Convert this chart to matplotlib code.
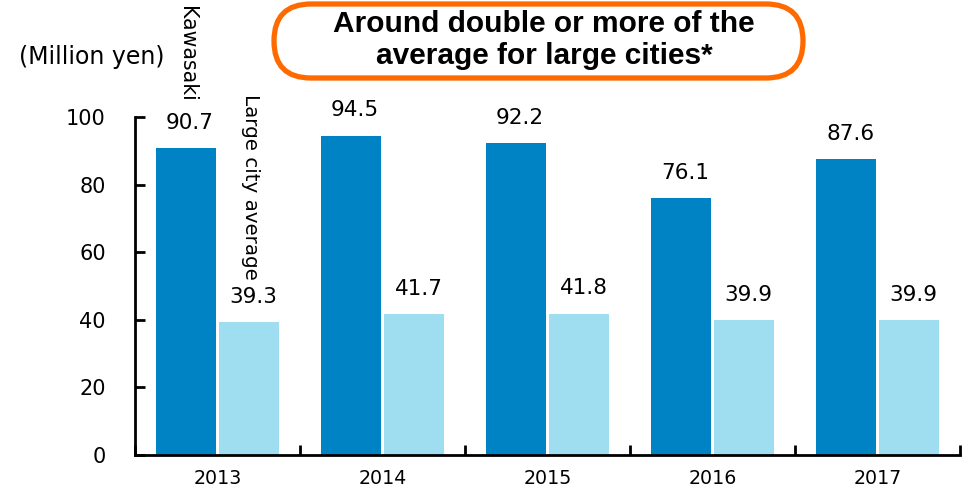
import numpy as np
import matplotlib.pyplot as plt
from matplotlib import font_manager
from matplotlib.patches import FancyBboxPatch

years = ['2013', '2014', '2015', '2016', '2017']
kawasaki = [90.7, 94.5, 92.2, 76.1, 87.6]
large_city_avg = [39.3, 41.7, 41.8, 39.9, 39.9]
series_names = ['Kawasaki', 'Large city average']
headline = 'Around double or more of the\naverage for large cities*'

dark_blue = '#0083C4'
light_blue = '#9EDEF0'

# regular (not narrow) Liberation Sans Bold for the headline
bold_file = [f for f in font_manager.findSystemFonts() if f.endswith('LiberationSans-Bold.ttf')]
if bold_file:
    head_font = font_manager.FontProperties(fname=bold_file[0], size=21.5)
else:
    head_font = font_manager.FontProperties(family='DejaVu Sans', weight='bold', size=18)

fig = plt.figure(figsize=(9.65, 4.9), dpi=100)
ax = fig.add_axes([0.14, 0.0714, 0.855, 0.6898])

x = np.arange(len(years))
w = 0.365
off = 0.192
ax.bar(x - off, kawasaki, w, color=dark_blue)
ax.bar(x + off, large_city_avg, w, color=light_blue)

# value labels
for i in range(len(years)):
    ax.annotate(f'{kawasaki[i]:.1f}', (x[i] - off, kawasaki[i]), xytext=(3, 11),
                textcoords='offset points', ha='center', va='bottom', fontsize=15.5)
    ax.annotate(f'{large_city_avg[i]:.1f}', (x[i] + off, large_city_avg[i]), xytext=(3, 11),
                textcoords='offset points', ha='center', va='bottom', fontsize=15.5)

# rotated series labels on the first group
ax.annotate(series_names[0], (x[0] - off, 100), xytext=(1, 80), textcoords='offset points',
            rotation=-90, ha='center', va='top', fontsize=14.8, annotation_clip=False)
ax.annotate(series_names[1], (x[0] + off, 100), xytext=(1, 16.5), textcoords='offset points',
            rotation=-90, ha='center', va='top', fontsize=14.3, annotation_clip=False)

ax.set_xlim(-0.5, len(years) - 0.5)
ax.set_ylim(0, 100)
ax.set_yticks(range(0, 101, 20))
ax.set_xticks(x)
ax.set_xticklabels(years)
ax.set_xticks(np.arange(-0.5, len(years)), minor=True)
ax.tick_params(axis='x', which='major', length=0, pad=10, labelsize=13.7)
ax.tick_params(axis='x', which='minor', direction='in', length=7, width=2)
ax.tick_params(axis='y', direction='in', length=7, width=2, pad=21, labelsize=15)
for s in ['top', 'right']:
    ax.spines[s].set_visible(False)
ax.spines['left'].set_linewidth(2)
ax.spines['bottom'].set_linewidth(2)

fig.text(0.02, 0.883, '(Million yen)', fontsize=17, ha='left', va='center')

# rounded callout box, drawn in pixel coordinates on an overlay
over = fig.add_axes([0, 0, 1, 1], zorder=-1)
over.set_xlim(0, 965)
over.set_ylim(490, 0)
over.axis('off')
box = FancyBboxPatch((274, 4), 529, 74, boxstyle='round,pad=0,rounding_size=37',
                     facecolor='white', edgecolor='#FF6A00', linewidth=3.8)
over.add_patch(box)
over.text(544, 40, headline, fontproperties=head_font,
          ha='center', va='center', linespacing=1.22)

fig.savefig('out.png')
